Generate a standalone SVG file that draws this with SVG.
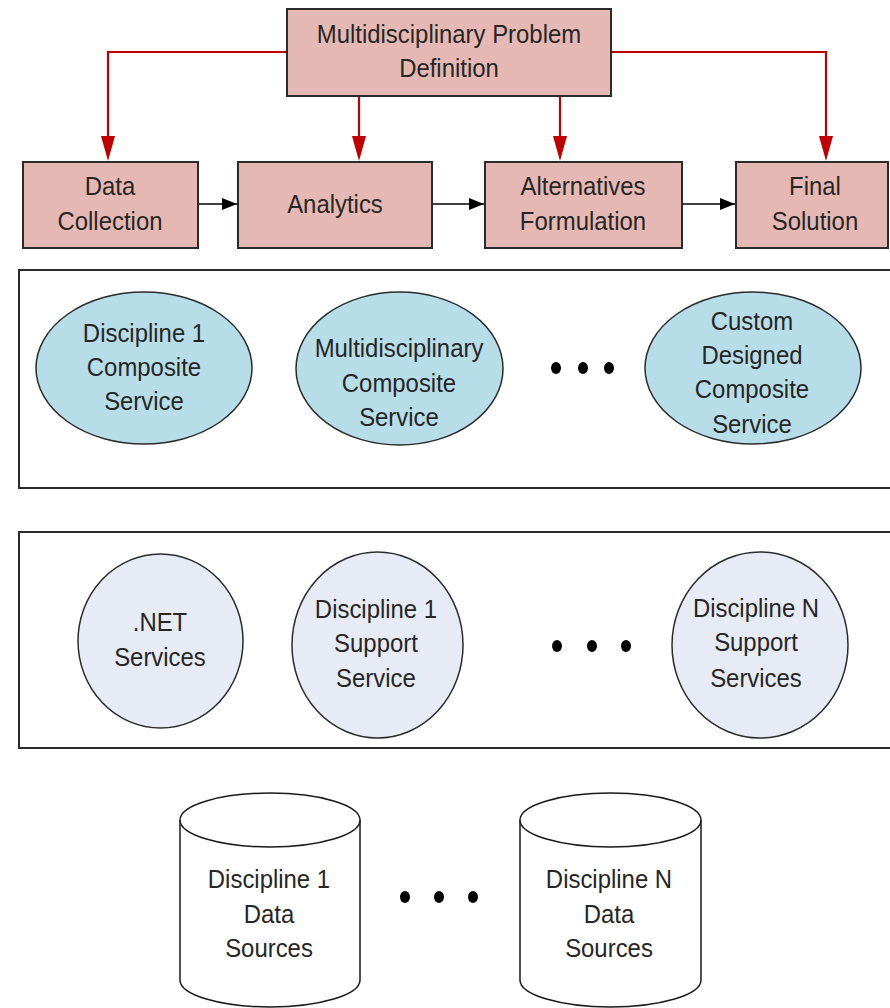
<svg xmlns="http://www.w3.org/2000/svg" width="890" height="1008" viewBox="0 0 890 1008">
  <style>
    .box { fill: #e6b8b4; stroke: #2b2b2b; stroke-width: 2; }
    .panel { fill: #ffffff; stroke: #2b2b2b; stroke-width: 2; }
    .comp { fill: #b7dde8; stroke: #2b2b2b; stroke-width: 1.5; }
    .supp { fill: #e6ebf5; stroke: #2b2b2b; stroke-width: 1.5; }
    .db { fill: #ffffff; stroke: #1a1a1a; stroke-width: 1.5; }
    .dot { fill: #000000; }
    /* narrow lettering: each line is squeezed horizontally about its own centre */
    .t { font-family: "Liberation Sans", Arial, sans-serif; font-size: 26px; fill: #262626; text-anchor: middle;
         transform-box: fill-box; transform-origin: center; transform: scaleX(0.92); }
    .red { fill: none; stroke: #c00000; stroke-width: 2.2; }
    .blk { fill: none; stroke: #000000; stroke-width: 1.6; }
  </style>
  <defs>
    <marker id="blkHead" viewBox="0 0 15 12" refX="15" refY="6" markerWidth="15" markerHeight="12" markerUnits="userSpaceOnUse" orient="auto">
      <path d="M0,0 L15,6 L0,12 Z" fill="#000000"/>
    </marker>
  </defs>

  <!-- layer panels -->
  <g id="panel-composite">
    <rect class="panel" x="19" y="270" width="900" height="218"/>
  </g>
  <g id="panel-support">
    <rect class="panel" x="19" y="532" width="900" height="216"/>
  </g>

  <!-- connectors -->
  <g id="connectors">
    <path class="red" d="M287,52 H108 V146"/>
    <path d="M101,136 L115,136 L108,161 Z" fill="#c00000"/>
    <path class="red" d="M359,96 V146"/>
    <path d="M352,136 L366,136 L359,161 Z" fill="#c00000"/>
    <path class="red" d="M560,96 V146"/>
    <path d="M553,136 L567,136 L560,161 Z" fill="#c00000"/>
    <path class="red" d="M611,52 H826 V146"/>
    <path d="M819,136 L833,136 L826,161 Z" fill="#c00000"/>
    <line class="blk" x1="199" y1="204" x2="237" y2="204" marker-end="url(#blkHead)"/>
    <line class="blk" x1="433" y1="204" x2="484" y2="204" marker-end="url(#blkHead)"/>
    <line class="blk" x1="683" y1="204" x2="735" y2="204" marker-end="url(#blkHead)"/>
  </g>

  <!-- process row -->
  <g id="problem-definition">
    <rect class="box" x="287" y="9" width="324" height="87"/>
    <text class="t" x="449" y="43">Multidisciplinary Problem</text>
    <text class="t" x="449" y="77">Definition</text>
  </g>
  <g id="data-collection">
    <rect class="box" x="23" y="162" width="175" height="86"/>
    <text class="t" x="110" y="195">Data</text>
    <text class="t" x="110" y="230">Collection</text>
  </g>
  <g id="analytics">
    <rect class="box" x="238" y="162" width="194" height="86"/>
    <text class="t" x="335" y="213">Analytics</text>
  </g>
  <g id="alternatives-formulation">
    <rect class="box" x="485" y="162" width="197" height="86"/>
    <text class="t" x="583" y="195">Alternatives</text>
    <text class="t" x="583" y="230">Formulation</text>
  </g>
  <g id="final-solution">
    <rect class="box" x="736" y="162" width="152" height="86"/>
    <text class="t" x="815" y="195">Final</text>
    <text class="t" x="815" y="230">Solution</text>
  </g>

  <!-- composite services -->
  <g id="discipline1-composite">
    <ellipse class="comp" cx="144" cy="368" rx="108" ry="76"/>
    <text class="t" x="144" y="342">Discipline 1</text>
    <text class="t" x="144" y="376">Composite</text>
    <text class="t" x="144" y="410">Service</text>
  </g>
  <g id="multidisciplinary-composite">
    <ellipse class="comp" cx="399.5" cy="368.5" rx="103.5" ry="76.5"/>
    <text class="t" x="399" y="357">Multidisciplinary</text>
    <text class="t" x="399" y="392">Composite</text>
    <text class="t" x="399" y="426">Service</text>
  </g>
  <g id="composite-ellipsis">
    <ellipse class="dot" cx="556" cy="368" rx="5" ry="6"/>
    <ellipse class="dot" cx="583" cy="368" rx="5" ry="6"/>
    <ellipse class="dot" cx="609" cy="368" rx="5" ry="6"/>
  </g>
  <g id="custom-composite">
    <ellipse class="comp" cx="753" cy="368" rx="108" ry="76"/>
    <text class="t" x="752" y="330">Custom</text>
    <text class="t" x="752" y="364">Designed</text>
    <text class="t" x="752" y="398">Composite</text>
    <text class="t" x="752" y="433">Service</text>
  </g>

  <!-- support services -->
  <g id="dotnet-services">
    <ellipse class="supp" cx="160.5" cy="641" rx="82.5" ry="87"/>
    <text class="t" x="160" y="631">.NET</text>
    <text class="t" x="160" y="666">Services</text>
  </g>
  <g id="discipline1-support">
    <ellipse class="supp" cx="377.5" cy="645" rx="85.5" ry="93"/>
    <text class="t" x="376" y="618">Discipline 1</text>
    <text class="t" x="376" y="652">Support</text>
    <text class="t" x="376" y="687">Service</text>
  </g>
  <g id="support-ellipsis">
    <ellipse class="dot" cx="557" cy="646" rx="5" ry="6"/>
    <ellipse class="dot" cx="592" cy="646" rx="5" ry="6"/>
    <ellipse class="dot" cx="626" cy="646" rx="5" ry="6"/>
  </g>
  <g id="disciplineN-support">
    <ellipse class="supp" cx="760" cy="645" rx="88" ry="93"/>
    <text class="t" x="756" y="617">Discipline N</text>
    <text class="t" x="756" y="651">Support</text>
    <text class="t" x="756" y="687">Services</text>
  </g>

  <!-- data sources -->
  <g id="discipline1-data">
    <path class="db" d="M180,820 V980 A90,27 0 0 0 360,980 V820 A90,27 0 0 0 180,820 Z"/>
    <path class="db" d="M180,820 A90,27 0 0 0 360,820" fill="none"/>
    <text class="t" x="269" y="888">Discipline 1</text>
    <text class="t" x="269" y="923">Data</text>
    <text class="t" x="269" y="957">Sources</text>
  </g>
  <g id="data-ellipsis">
    <ellipse class="dot" cx="405" cy="897" rx="5" ry="6"/>
    <ellipse class="dot" cx="439" cy="897" rx="5" ry="6"/>
    <ellipse class="dot" cx="473" cy="897" rx="5" ry="6"/>
  </g>
  <g id="disciplineN-data">
    <path class="db" d="M520,820 V980 A90.5,27 0 0 0 701,980 V820 A90.5,27 0 0 0 520,820 Z"/>
    <path class="db" d="M520,820 A90.5,27 0 0 0 701,820" fill="none"/>
    <text class="t" x="609" y="888">Discipline N</text>
    <text class="t" x="609" y="923">Data</text>
    <text class="t" x="609" y="957">Sources</text>
  </g>
</svg>
